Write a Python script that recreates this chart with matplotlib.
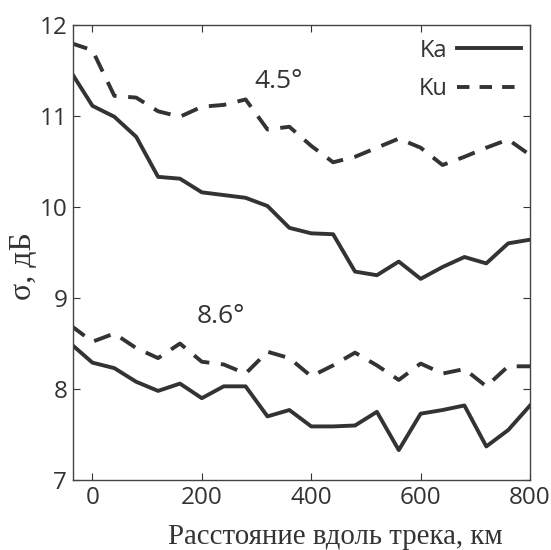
import matplotlib
matplotlib.use("Agg")
import matplotlib.pyplot as plt
from matplotlib.lines import Line2D

distance_km = [-40, 0, 40, 80, 120, 160, 200, 240, 280, 320, 360, 400,
               440, 480, 520, 560, 600, 640, 680, 720, 760, 800]
ka_45 = [11.49, 11.11, 10.99, 10.77, 10.33, 10.31, 10.16, 10.13, 10.10, 10.01, 9.77, 9.71,
         9.70, 9.29, 9.25, 9.40, 9.21, 9.34, 9.45, 9.38, 9.60, 9.64]
ku_45 = [11.80, 11.72, 11.22, 11.20, 11.05, 10.99, 11.10, 11.12, 11.18, 10.85, 10.88, 10.67,
         10.49, 10.55, 10.65, 10.75, 10.65, 10.46, 10.55, 10.65, 10.74, 10.57]
ka_86 = [8.50, 8.29, 8.23, 8.08, 7.98, 8.06, 7.90, 8.03, 8.03, 7.70, 7.77, 7.59,
         7.59, 7.60, 7.75, 7.33, 7.73, 7.77, 7.82, 7.37, 7.55, 7.82]
ku_86 = [8.70, 8.52, 8.61, 8.45, 8.34, 8.50, 8.30, 8.27, 8.17, 8.41, 8.34, 8.14,
         8.26, 8.40, 8.26, 8.10, 8.28, 8.17, 8.22, 8.03, 8.25, 8.25]
xticks = [0, 200, 400, 600, 800]
yticks = [7, 8, 9, 10, 11, 12]
angle_labels = ["4.5°", "8.6°"]
legend_labels = ["Ka", "Ku"]

col = "#333333"
lw = 2.8
dash = (0, (4.5, 3))

fig = plt.figure(figsize=(5.51, 5.50), dpi=100)
ax = fig.add_axes([0.132, 0.127, 0.830, 0.828])

ax.plot(distance_km, ka_45, color=col, lw=lw)
ax.plot(distance_km, ku_45, color=col, lw=lw, linestyle=dash)
ax.plot(distance_km, ka_86, color=col, lw=lw)
ax.plot(distance_km, ku_86, color=col, lw=lw, linestyle=dash)

ax.set_xlim(-36, 800)
ax.set_ylim(7, 12)
ax.set_xticks(xticks)
ax.set_yticks(yticks)
ax.tick_params(direction="in", top=True, right=True, length=5, width=0.8,
               labelsize=17.5, colors="#333333", pad=4)
for lab in ax.get_xticklabels() + ax.get_yticklabels():
    lab.set_fontfamily("Open Sans")
for s in ax.spines.values():
    s.set_color("#444444")
    s.set_linewidth(1.0)

ax.text(341, 11.38, angle_labels[0], fontsize=19, family="Open Sans",
        color="#333333", ha="center", va="center")
ax.text(235, 8.80, angle_labels[1], fontsize=19, family="Open Sans",
        color="#333333", ha="center", va="center")

handles = [Line2D([], [], color=col, lw=lw),
           Line2D([], [], color=col, lw=lw, linestyle=(0, (3.2, 2.6)))]
leg = ax.legend(handles, legend_labels, loc="upper right", frameon=False,
                markerfirst=False, handlelength=2.7, handletextpad=0.4,
                labelspacing=0.6, borderaxespad=0.0,
                bbox_to_anchor=(1.0, 0.99),
                prop={"family": "Open Sans", "size": 17})
for t in leg.get_texts():
    t.set_color("#333333")

ax.set_xlabel("Расстояние вдоль трека, км", family="Liberation Serif",
              fontsize=20.8, color="#333333")
ax.xaxis.set_label_coords(0.574, -0.097)
ax.set_ylabel("σ, дБ", family="Liberation Serif", fontsize=23,
              color="#333333")
ax.yaxis.set_label_coords(-0.077, 0.470)

fig.savefig("out.png", dpi=100, facecolor="white")
